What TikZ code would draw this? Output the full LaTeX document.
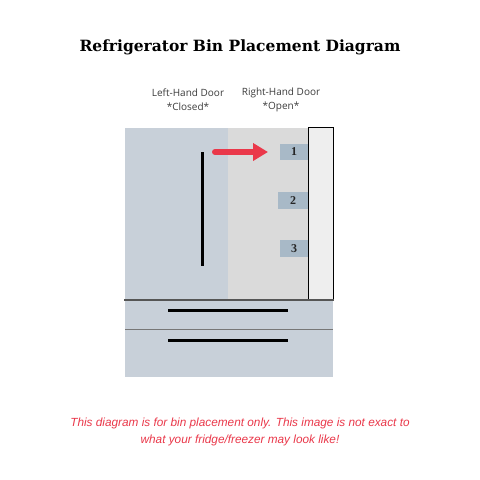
\documentclass[tikz,border=0pt]{standalone}
\usepackage{fontspec}
\setmainfont{Liberation Serif}
\newfontfamily\titlefont{DejaVu Serif}
\newfontfamily\labelfont{Open Sans}
\newfontfamily\notefont{Liberation Sans}
\usetikzlibrary{arrows.meta}
\definecolor{doorblue}{RGB}{200,208,217}
\definecolor{opengray}{RGB}{218,218,218}
\definecolor{panelgray}{RGB}{238,238,238}
\definecolor{binblue}{RGB}{168,185,199}
\definecolor{alertred}{RGB}{234,56,74}
\definecolor{labelgray}{RGB}{60,60,60}
\definecolor{edgegray}{RGB}{85,85,85}
\tikzset{
  handle/.style={line width=3pt, black},
  binbox/.style={fill=binblue, draw=none, font=\bfseries\fontsize{12}{12}\selectfont, text=black!85},
  doorlabel/.style={font=\labelfont\fontsize{10}{14}\selectfont, text=labelgray, align=center},
}
\begin{document}
\begin{tikzpicture}[x=1pt,y=-1pt]
\useasboundingbox (0,0) rectangle (480,480);
\fill[white] (0,0) rectangle (480,480);
% title
\node[font=\titlefont\bfseries\fontsize{15.5}{18}\selectfont] (title) at (240,47) {Refrigerator Bin Placement Diagram};
% labels
\node[doorlabel] (lhl) at (188,99.5) {Left-Hand Door\\*Closed*};
\node[doorlabel] (rhl) at (281,99.5) {Right-Hand Door\\*Open*};
% fridge body
\fill[doorblue] (125,128) rectangle (228,300);
\fill[opengray] (228,128) rectangle (308,300);
\draw[black, line width=1pt, fill=panelgray] (308,127.5) rectangle (333,300);
\fill[doorblue] (125,300) rectangle (333,377);
\draw[edgegray, line width=2pt] (124,300) -- (334,300);
\draw[edgegray!80, line width=1.3pt] (125,329.5) -- (333,329.5);
% handles
\draw[handle] (202,152) -- (202,266);
\draw[handle] (168,310) -- (288,310);
\draw[handle] (168,340) -- (288,340);
% bins
\node[binbox, minimum width=28pt, minimum height=16.5pt, inner sep=0pt] (b1) at (294,152) {1};
\node[binbox, minimum width=30pt, minimum height=16.5pt, inner sep=0pt] (b2) at (293,200.5) {2};
\node[binbox, minimum width=28pt, minimum height=16.5pt, inner sep=0pt] (b3) at (294,248.5) {3};
% arrow
\coordinate (as) at (215,152);
\coordinate (ae) at (268,152);
\draw[alertred, line width=6pt, line cap=round, -{Triangle[length=15pt,width=17pt]}] (as) -- (ae);
% note
\node[font=\notefont\itshape\fontsize{11.8}{17}\selectfont, text=alertred, align=center] (note) at (240,432) {This diagram is for bin placement only. This image is not exact to\\what your fridge/freezer may look like!};
\end{tikzpicture}
\end{document}
